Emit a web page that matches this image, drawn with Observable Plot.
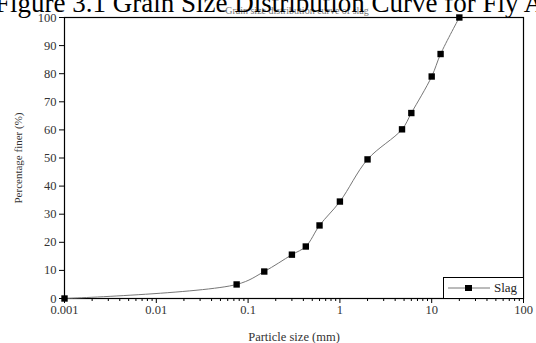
<!DOCTYPE html>
<html>
<head>
<meta charset="utf-8">
<script src="https://cdn.jsdelivr.net/npm/d3@7"></script>
<script src="https://cdn.jsdelivr.net/npm/@observablehq/plot@0.6"></script>
<style>
  html, body { margin: 0; padding: 0; background: #fff; }
  #wrap { position: relative; width: 536px; height: 343px; overflow: hidden; font-family: "Liberation Serif", "DejaVu Serif", serif; }
  #title { position: absolute; left: -5px; top: -12px; font-size: 27px; white-space: nowrap; color: #000; z-index: 2; }
  #subtitle { position: absolute; left: 0; width: 594px; top: 5px; text-align: center; font-size: 10px; color: #777; white-space: nowrap; z-index: 1; }
  #legend { position: absolute; left: 443px; top: 277px; width: 79px; height: 20px; border: 1px solid #000; background: #fff; display: flex; align-items: center; font-size: 13px; color: #222; }
  #chart { position: absolute; left: 0; top: 0; }
</style>
</head>
<body>
<div id="wrap">
  <div id="chart"></div>
  <div id="subtitle">Grain size distribution curve of slag</div>
  <div id="title">Figure 3.1 Grain Size Distribution Curve for Fly Ash</div>
  <div id="legend">
    <svg width="46" height="20" style="margin-left:2px"><line x1="2" x2="44" y1="10" y2="10" stroke="#777" stroke-width="1"/><rect x="19" y="7" width="7" height="6" fill="#000"/></svg>
    <span style="margin-left:2px">Slag</span>
  </div>
</div>
<script>
const sizes = [0.001, 0.075, 0.15, 0.3, 0.425, 0.6, 1, 2, 4.75, 6, 10, 12.5, 20];
const finer = [0, 5, 9.6, 15.6, 18.5, 26, 34.5, 49.5, 60.2, 66, 79, 87, 100];
const xMajor = [0.001, 0.01, 0.1, 1, 10, 100];
const xMinorFactors = [2, 3, 4, 5, 6, 7, 8, 9];
const yTicks = [0, 10, 20, 30, 40, 50, 60, 70, 80, 90, 100];
const xLabel = "Particle size (mm)";
const yLabel = "Percentage finer (%)";

const data = sizes.map((s, i) => ({size: s, finer: finer[i]}));
const xMinor = xMajor.slice(0, -1).flatMap(d => xMinorFactors.map(f => d * f));

const chart = Plot.plot({
  width: 536,
  height: 343,
  marginLeft: 64,
  marginRight: 13,
  marginTop: 17,
  marginBottom: 45,
  style: {fontFamily: "Liberation Serif, serif", fontSize: "12.5px", color: "#333", background: "transparent"},
  x: {type: "log", domain: [0.001, 100]},
  y: {domain: [0, 100]},
  marks: [
    Plot.frame({stroke: "#000", strokeWidth: 1.2}),
    Plot.axisX({ticks: xMinor, tickSize: 3, tickFormat: () => "", stroke: "#000", label: null}),
    Plot.axisX({ticks: xMajor, tickSize: 5, tickPadding: 2, tickFormat: d => String(d), stroke: "#000",
      label: xLabel, labelAnchor: "center", labelArrow: "none", labelOffset: 42, fontSize: 12.5}),
    Plot.axisY({ticks: yTicks, tickSize: 5, tickPadding: 3, stroke: "#000", fontSize: 12.5, label: null}),
    Plot.axisY({ticks: [], tickSize: 0, label: yLabel, labelAnchor: "center", labelArrow: "none", labelOffset: 50, fontSize: 11}),
    Plot.line(data, {x: "size", y: "finer", stroke: "#777", strokeWidth: 1, curve: "catmull-rom"}),
    Plot.dot(data, {x: "size", y: "finer", symbol: "square", r: 3.6, fill: "#000", stroke: "none"})
  ]
});
document.getElementById("chart").appendChild(chart);
</script>
</body>
</html>
